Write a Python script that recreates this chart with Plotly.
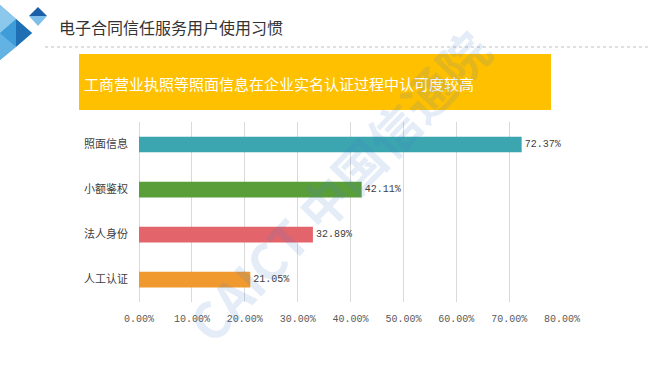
import plotly.graph_objects as go

categories = ["照面信息", "小额鉴权", "法人身份", "人工认证"]
values = [0.7237, 0.4211, 0.3289, 0.2105]
bar_colors = ["#3BA5B0", "#5A9E3A", "#E4646B", "#F0992E"]
x_ticks = [0, 0.1, 0.2, 0.3, 0.4, 0.5, 0.6, 0.7, 0.8]

page_title = "电子合同信任服务用户使用习惯"
banner_text = "工商营业执照等照面信息在企业实名认证过程中认可度较高"
watermark = "CAICT 中国信通院"

W, H = 650, 366
L, R, T, B = 139, 562, 122, 302

def px(xp):
    return (xp - L) / (R - L)

def py(yp):
    return (B - yp) / (B - T)

fig = go.Figure()
fig.add_trace(go.Bar(
    y=categories, x=values, orientation="h",
    marker=dict(color=bar_colors, line=dict(width=0)),
    width=0.35,
    texttemplate="%{x:.2%}", textposition="outside",
    textfont=dict(family="Liberation Mono, monospace", size=10, color="#404040"),
    cliponaxis=False, hoverinfo="skip",
))

shapes = []
def tri(pts, color):
    path = "M " + " L ".join(f"{px(a)},{py(b)}" for a, b in pts) + " Z"
    return dict(type="path", xref="paper", yref="paper", path=path,
                fillcolor=color, line=dict(width=0), layer="above")

shapes += [
    tri([(0, 5), (32, 33), (0, 60)], "#3E9CD8"),
    tri([(0, 5), (16, 19), (0, 33)], "#8CC8EC"),
    tri([(16, 19), (32, 33), (16, 47)], "#1F6FB5"),
    tri([(0, 33), (16, 47), (0, 60)], "#62B2E3"),
    tri([(29, 16), (38, 7), (47, 16)], "#1B5FA8"),
    tri([(29, 16), (47, 16), (38, 26)], "#7FC0EA"),
]
shapes.append(dict(type="line", xref="paper", yref="paper",
                   x0=px(45), x1=px(650), y0=py(47), y1=py(47),
                   line=dict(color="#BFBFBF", width=1, dash="dot")))
shapes.append(dict(type="rect", xref="paper", yref="paper",
                   x0=px(79), x1=px(551), y0=py(110), y1=py(54),
                   fillcolor="#FFC000", line=dict(width=0), layer="below"))

annotations = [
    dict(text=page_title, xref="paper", yref="paper", x=px(57), y=py(27),
         xanchor="left", yanchor="middle", showarrow=False,
         font=dict(family="Noto Sans CJK SC", size=16, color="#333333")),
    dict(text=banner_text, xref="paper", yref="paper", x=px(82), y=py(83),
         xanchor="left", yanchor="middle", showarrow=False,
         font=dict(family="Noto Sans CJK SC", size=15, color="#FFFFFF")),
    dict(text="<b>" + watermark + "</b>", xref="paper", yref="paper",
         x=px(338), y=py(185), xanchor="center", yanchor="middle",
         showarrow=False, textangle=-46,
         font=dict(family="Noto Sans CJK SC", size=50, color="rgba(70,130,200,0.15)")),
]

fig.update_layout(
    width=W, height=H,
    margin=dict(l=L, r=W - R, t=T, b=H - B, pad=0),
    paper_bgcolor="white", plot_bgcolor="white",
    showlegend=False,
    shapes=shapes, annotations=annotations,
    xaxis=dict(range=[0, 0.8], tickvals=x_ticks, tickformat=".2%",
               showgrid=True, gridcolor="#D9D9D9", gridwidth=1,
               zeroline=True, zerolinecolor="#D9D9D9", zerolinewidth=1,
               showline=False, ticks="", ticklen=0,
               ticklabelstandoff=9,
               tickfont=dict(family="Liberation Mono, monospace", size=10, color="#595959"),
               fixedrange=True),
    yaxis=dict(categoryorder="array", categoryarray=categories[::-1],
               showgrid=False, zeroline=False, showline=False, ticks="",
               ticklabelstandoff=10,
               tickfont=dict(family="Noto Sans CJK SC", size=11, color="#404040"),
               fixedrange=True),
    bargap=0.65,
)

fig.write_html("out.html", config={"displayModeBar": False},
               post_script="document.body.style.margin='0';document.body.style.overflow='hidden';")
